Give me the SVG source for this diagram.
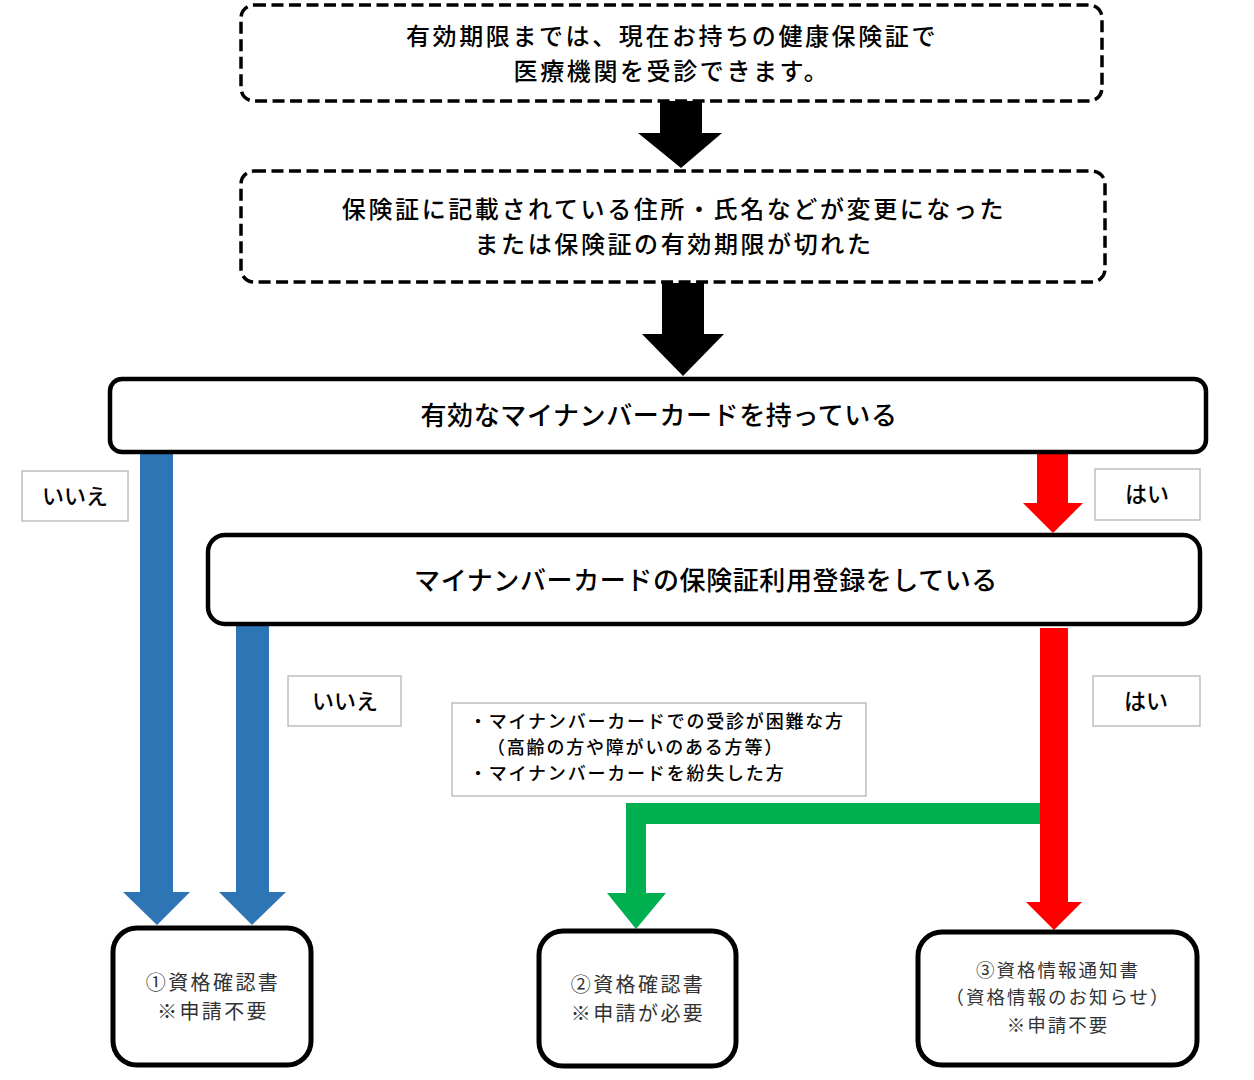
<svg xmlns="http://www.w3.org/2000/svg" width="1254" height="1080" viewBox="0 0 1254 1080">
<style>
text{font-family:"Noto Sans CJK JP","Noto Sans",sans-serif;dominant-baseline:central;text-anchor:middle;fill:#000}
.dash{fill:#fff;stroke:#000;stroke-width:3.5;stroke-dasharray:12 5.5}
.solid{fill:#fff;stroke:#000;stroke-width:4.5}
.res{fill:#fff;stroke:#000;stroke-width:5}
.lbl{fill:#fff;stroke:#bfbfbf;stroke-width:1.5}
.big{font-size:24px;letter-spacing:2.6px;font-weight:500}
.one{font-size:26px;letter-spacing:0.6px;font-weight:500}
.lt{font-size:22px;font-weight:500}
.note{font-size:18px;letter-spacing:1.8px;text-anchor:start;font-weight:500}
.rt{fill:#333;font-size:20px;letter-spacing:2.4px}
.rt3{fill:#333;font-size:18.5px;letter-spacing:2px}
</style>
<rect width="1254" height="1080" fill="#fff"/>
<g id="connectors">
<polygon fill="#000" points="660,100 702,100 702,133 722,133 681,168 638,133 660,133"/>
<polygon fill="#000" points="662,283 704,283 704,334 724,334 683,376 642,334 662,334"/>
<polygon fill="#2E75B6" points="140,453 173,453 173,892 190,892 157,925 123,892 140,892"/>
<polygon fill="#2E75B6" points="236,626 269,626 269,892 286,892 252,925 219,892 236,892"/>
<polygon fill="#FF0000" points="1037,453 1068,453 1068,503 1083,503 1053,533 1023,503 1037,503"/>
<polygon fill="#00B050" points="1041,803 626,803 626,893 607,893 636,929 666,893 646,893 646,824 1041,824"/>
<polygon fill="#FF0000" points="1040,628 1068,628 1068,902 1082,902 1054,930 1026,902 1040,902"/>
</g>
<g id="node-start">
<rect class="dash" x="241" y="5" width="861" height="96" rx="13"/>
<text class="big" x="672" y="34">有効期限までは、現在お持ちの健康保険証で</text>
<text class="big" x="672" y="69">医療機関を受診できます。</text>
</g>
<g id="node-change">
<rect class="dash" x="241" y="171" width="864" height="111" rx="13"/>
<text class="big" x="674" y="207">保険証に記載されている住所・氏名などが変更になった</text>
<text class="big" x="674" y="242">または保険証の有効期限が切れた</text>
</g>
<g id="node-card">
<rect class="solid" x="110" y="379" width="1096" height="73" rx="12"/>
<text class="one" x="659" y="413">有効なマイナンバーカードを持っている</text>
</g>
<g id="node-registered">
<rect class="solid" x="208" y="535" width="992" height="89" rx="17"/>
<text class="one" x="706" y="578">マイナンバーカードの保険証利用登録をしている</text>
</g>
<g id="label-no1">
<rect class="lbl" x="22" y="471" width="106" height="50"/>
<text class="lt" x="75" y="494">いいえ</text>
</g>
<g id="label-yes1">
<rect class="lbl" x="1095" y="469" width="105" height="51"/>
<text class="lt" x="1147" y="492">はい</text>
</g>
<g id="label-no2">
<rect class="lbl" x="288" y="676" width="113" height="50"/>
<text class="lt" x="345" y="699">いいえ</text>
</g>
<g id="label-yes2">
<rect class="lbl" x="1093" y="676" width="107" height="50"/>
<text class="lt" x="1146" y="699">はい</text>
</g>
<g id="note">
<rect class="lbl" x="452" y="703" width="414" height="93"/>
<text class="note" x="469" y="720">・マイナンバーカードでの受診が困難な方</text>
<text class="note" x="487" y="746">（高齢の方や障がいのある方等）</text>
<text class="note" x="469" y="772">・マイナンバーカードを紛失した方</text>
</g>
<g id="result-1">
<rect class="res" x="113" y="928" width="198" height="137" rx="24"/>
<text class="rt" x="213" y="981">①資格確認書</text>
<text class="rt" x="213" y="1010">※申請不要</text>
</g>
<g id="result-2">
<rect class="res" x="539" y="931" width="197" height="135" rx="24"/>
<text class="rt" x="638" y="983">②資格確認書</text>
<text class="rt" x="638" y="1012">※申請が必要</text>
</g>
<g id="result-3">
<rect class="res" x="918" y="932" width="279" height="133" rx="24"/>
<text class="rt3" x="1058" y="969">③資格情報通知書</text>
<text class="rt3" x="1058" y="996">（資格情報のお知らせ）</text>
<text class="rt3" x="1058" y="1024">※申請不要</text>
</g>
</svg>
